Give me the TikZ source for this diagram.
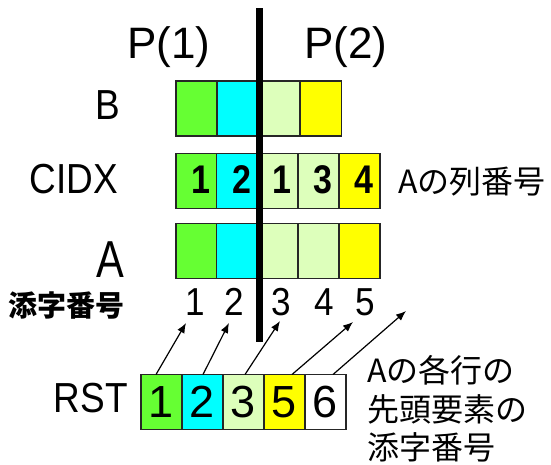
\documentclass[tikz,border=0pt]{standalone}
\usepackage{fontspec}
\usetikzlibrary{arrows.meta}
\setmainfont{Liberation Sans}
\newfontfamily\narrowfont[FakeStretch=0.88]{Liberation Sans}
\newfontfamily\narrowA[FakeStretch=0.8]{Liberation Sans}
\newfontfamily\boldnarrow[FakeStretch=0.85]{Liberation Sans}
\newfontfamily\idxfont[FakeStretch=0.9]{Liberation Sans}
\newfontfamily\cjk{Noto Sans CJK JP}
\definecolor{cgreen}{HTML}{66FF33}
\definecolor{ccyan}{HTML}{00FFFF}
\definecolor{clight}{HTML}{DDFFBB}
\definecolor{cyellow}{HTML}{FFFF00}
\begin{document}
\begin{tikzpicture}[x=1pt,y=-1pt,
  cell/.style={draw=black!85, line width=1.3pt, minimum width=41pt, minimum height=55pt, inner sep=0pt, outer sep=0pt},
  biglabel/.style={inner sep=0pt, font=\fontsize{44}{48}\selectfont},
  rowlabel/.style={inner sep=0pt, anchor=base east, font=\narrowfont\fontsize{42}{46}\selectfont},
  cidxnum/.style={inner sep=0pt, anchor=base east, font=\boldnarrow\bfseries\fontsize{40}{44}\selectfont},
  idxnum/.style={inner sep=0pt, anchor=base, font=\idxfont\fontsize{39}{42}\selectfont},
  rstcell/.style={cell, font=\fontsize{45}{48}\selectfont},
  jtext/.style={inner sep=0pt, anchor=base west, font=\cjk\fontsize{32}{36}\selectfont},
  arr/.style={line width=1.2pt, -{Latex[length=10pt,width=8pt]}}
]
\useasboundingbox (0,0) rectangle (551,464);

% titles
\node[biglabel, anchor=base] (p1) at (169,58) {P(1)};
\node[biglabel, anchor=base] (p2) at (346,58) {P(2)};

% row labels
\node[rowlabel] (lb) at (120,119) {B};
\node[rowlabel] (lc) at (118,193) {CIDX};
\node[rowlabel, font=\narrowA\fontsize{52}{56}\selectfont] (la) at (124,277) {A};
\node[rowlabel] (lr) at (128,412) {RST};
\node[inner sep=0pt, anchor=base west, font=\cjk\bfseries\fontsize{29}{32}\selectfont] (lidx) at (8,316) {添字番号};

% B row
\node[cell, fill=cgreen]  (b1) at (196.5,108.5) {};
\node[cell, fill=ccyan]   (b2) at (237.5,108.5) {};
\node[cell, fill=clight]  (b3) at (279.5,108.5) {};
\node[cell, fill=cyellow] (b4) at (321,108.5) {};

% CIDX row
\node[cell, fill=cgreen]  (c1) at (196.5,181) {};
\node[cell, fill=ccyan]   (c2) at (237.25,181) {};
\node[cell, fill=clight]  (c3) at (277.75,181) {};
\node[cell, fill=clight]  (c4) at (318.5,181) {};
\node[cell, fill=cyellow] (c5) at (359.5,181) {};
\node[cidxnum] (cn1) at (211,193) {1};
\node[cidxnum] (cn2) at (251.5,193) {2};
\node[cidxnum] (cn3) at (292,193) {1};
\node[cidxnum] (cn4) at (333,193) {3};
\node[cidxnum] (cn5) at (374,193) {4};
\node[jtext] (colno) at (398,193) {Aの列番号};

% A row
\node[cell, fill=cgreen]  (a1) at (196.5,251) {};
\node[cell, fill=ccyan]   (a2) at (237.25,251) {};
\node[cell, fill=clight]  (a3) at (277.75,251) {};
\node[cell, fill=clight]  (a4) at (318.5,251) {};
\node[cell, fill=cyellow] (a5) at (359.5,251) {};

% index numbers
\node[idxnum] (i1) at (195,315) {1};
\node[idxnum] (i2) at (234,315) {2};
\node[idxnum] (i3) at (281,315) {3};
\node[idxnum] (i4) at (324,315) {4};
\node[idxnum] (i5) at (365,315) {5};

% divider
\coordinate (dtop) at (259.5,8);
\coordinate (dbot) at (259.5,342);
\draw[line width=7pt] (dtop) -- (dbot);

% RST row
\node[rstcell, fill=cgreen]  (r1) at (161.5,402) {1};
\node[rstcell, fill=ccyan]   (r2) at (202.5,402) {2};
\node[rstcell, fill=clight]  (r3) at (243.5,402) {3};
\node[rstcell, fill=cyellow] (r4) at (284.5,402) {5};
\node[rstcell, fill=white]   (r5) at (325.5,402) {6};

% arrows
\coordinate (t1) at (186,323);
\coordinate (t2) at (229,323);
\coordinate (t3) at (280,321);
\coordinate (t4) at (353,322);
\coordinate (t5) at (406,311);
\draw[arr] ([xshift=-5.5pt]r1.north) -- (t1);
\draw[arr] ([xshift=0.5pt]r2.north) -- (t2);
\draw[arr] ([xshift=1.5pt]r3.north) -- (t3);
\draw[arr] ([xshift=7.5pt]r4.north) -- (t4);
\draw[arr] ([xshift=7.5pt]r5.north) -- (t5);

% right text
\node[jtext] (rt1) at (367,382) {Aの各行の};
\node[jtext] (rt2) at (367,421) {先頭要素の};
\node[jtext] (rt3) at (367,459) {添字番号};
\end{tikzpicture}
\end{document}
